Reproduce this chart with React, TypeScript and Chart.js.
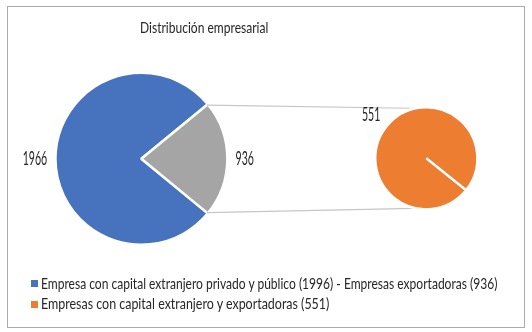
import React, { useEffect, useRef } from "react";
import { Chart, registerables } from "chart.js";

Chart.register(...registerables);

// ---------- data ----------
const TITLE = "Distribución empresarial";
const primaryCategories = ["Empresa con capital extranjero privado y público"];
const primaryValues = [1966];
const otherCategory = "Empresas exportadoras";
const secondaryCategories = ["Empresas con capital extranjero y exportadoras"];
const secondaryValues = [551];
const primaryLabels = ["1966", "936"]; // blue slice, grey ("other") slice
const secondaryLabels = ["551"];
const legendLabels = [
  "Empresa con capital extranjero privado y público (1996) - Empresas exportadoras (936)",
  "Empresas con capital extranjero y exportadoras (551)",
];

// ---------- style ----------
const W = 532;
const H = 332;
const BLUE = "#4672BE";
const GREY = "#A5A5A5";
const ORANGE = "#ED7D31";
const TEXT = "#262626";
const LINE = "#c6c6c6";
const FONT = "Lato, 'Open Sans', sans-serif";
const BW = 2.5;
const MAIN = { cx: 141.4, cy: 158.8, r: 84.7 };
const SEC = { cx: 426.3, cy: 158.3, r: 49.8 };
const SEC_ROTATION = 128.6;
const LABEL_SIZE = 18.5;
const LABEL_GAP = 9.5;
const TITLE_SIZE = 15.4;
const LEGEND_SIZE = 16.2;
const LEGEND_WIDTHS = [457, 289];

function measure(text: string, font: string) {
  const c = document.createElement("canvas").getContext("2d")!;
  c.font = font;
  return c.measureText(text).width;
}

function padFor(g: { cx: number; cy: number; r: number }) {
  const m = 3;
  return {
    left: g.cx - g.r - m,
    top: g.cy - g.r - m,
    right: W - (g.cx + g.r + m),
    bottom: H - (g.cy + g.r + m),
  };
}

function makeLabelPlugin(labels: string[], scale: number) {
  return {
    id: "outsideLabels",
    afterDatasetsDraw(chart: any) {
      const ctx = chart.ctx as CanvasRenderingContext2D;
      const meta = chart.getDatasetMeta(0);
      ctx.save();
      ctx.font = `${LABEL_SIZE}px ${FONT}`;
      ctx.fillStyle = TEXT;
      ctx.textBaseline = "alphabetic";
      const h = LABEL_SIZE * 0.72;
      meta.data.forEach((arc: any, i: number) => {
        const text = labels[i];
        if (!text) return;
        const p = arc.getProps(["x", "y", "startAngle", "endAngle", "outerRadius"], true);
        const mid = (p.startAngle + p.endAngle) / 2;
        const dx = Math.cos(mid);
        const dy = Math.sin(mid);
        const w = ctx.measureText(text).width * scale;
        const ext = Math.abs(dx) * (w / 2) + Math.abs(dy) * (h / 2);
        const d = p.outerRadius - BW / 2 + LABEL_GAP + ext;
        const tx = p.x + dx * d;
        const ty = p.y + dy * d;
        ctx.save();
        ctx.translate(tx - w / 2, ty + h / 2);
        ctx.scale(scale, 1);
        ctx.fillText(text, 0, 0);
        ctx.restore();
      });
      ctx.restore();
    },
  };
}

export default function App() {
  const mainRef = useRef<HTMLCanvasElement>(null);
  const secRef = useRef<HTMLCanvasElement>(null);

  const titleScale = 128.3 / measure(TITLE, `${TITLE_SIZE}px ${FONT}`);
  const legendScales = legendLabels.map((l, i) => LEGEND_WIDTHS[i] / measure(l, `${LEGEND_SIZE}px ${FONT}`));

  useEffect(() => {
    const labelScale = 24.5 / measure(primaryLabels[0], `${LABEL_SIZE}px ${FONT}`);
    const otherTotal = secondaryValues.reduce((a, b) => a + b, 0);
    const mainData = [...primaryValues, otherTotal];
    const total = mainData.reduce((a, b) => a + b, 0);
    const otherDeg = (360 * otherTotal) / total;

    const mainChart = new Chart(mainRef.current!, {
      type: "pie",
      data: {
        labels: [...primaryCategories, otherCategory],
        datasets: [
          {
            data: mainData,
            backgroundColor: [BLUE, GREY],
            borderColor: "#ffffff",
            borderWidth: BW,
          },
        ],
      },
      options: {
        responsive: false,
        animation: false,
        events: [],
        rotation: 90 + otherDeg / 2,
        radius: MAIN.r + BW / 2,
        layout: { padding: padFor(MAIN) },
        plugins: { legend: { display: false }, tooltip: { enabled: false }, title: { display: false } },
      } as any,
      plugins: [makeLabelPlugin(primaryLabels, labelScale)],
    });

    const connectors = {
      id: "connectors",
      beforeDatasetsDraw(chart: any) {
        const grey = mainChart.getDatasetMeta(0).data[1] as any;
        const g = grey.getProps(["x", "y", "startAngle", "endAngle", "outerRadius"], true);
        const s = chart.getDatasetMeta(0).data[0] as any;
        const sp = s.getProps(["x", "y", "outerRadius"], true);
        const R = g.outerRadius - BW / 2;
        const r = sp.outerRadius - BW / 2;
        const ctx = chart.ctx as CanvasRenderingContext2D;
        ctx.save();
        ctx.strokeStyle = LINE;
        ctx.lineWidth = 1.2;
        ctx.beginPath();
        ctx.moveTo(g.x + Math.cos(g.startAngle) * R, g.y + Math.sin(g.startAngle) * R);
        ctx.lineTo(sp.x, sp.y - r);
        ctx.moveTo(g.x + Math.cos(g.endAngle) * R, g.y + Math.sin(g.endAngle) * R);
        ctx.lineTo(sp.x, sp.y + r);
        ctx.stroke();
        ctx.restore();
      },
    };

    const secChart = new Chart(secRef.current!, {
      type: "pie",
      data: {
        labels: secondaryCategories,
        datasets: [
          {
            data: secondaryValues,
            backgroundColor: [ORANGE],
            borderColor: "#ffffff",
            borderWidth: BW,
          },
        ],
      },
      options: {
        responsive: false,
        animation: false,
        events: [],
        rotation: SEC_ROTATION,
        radius: SEC.r + BW / 2,
        layout: { padding: padFor(SEC) },
        plugins: { legend: { display: false }, tooltip: { enabled: false }, title: { display: false } },
      } as any,
      plugins: [connectors, makeLabelPlugin(secondaryLabels, labelScale)],
    });

    return () => {
      secChart.destroy();
      mainChart.destroy();
    };
  }, []);

  const legendColors = [BLUE, ORANGE];

  return (
    <div style={{ position: "absolute", left: 0, top: 0, width: W, height: H, background: "#fff", overflow: "hidden" }}>
      <div
        style={{
          position: "absolute",
          left: 7,
          top: 6,
          width: 518,
          height: 322,
          boxSizing: "border-box",
          border: "1px solid #ababab",
        }}
      />
      <canvas ref={mainRef} width={W} height={H} style={{ position: "absolute", left: 0, top: 0, width: W, height: H }} />
      <canvas ref={secRef} width={W} height={H} style={{ position: "absolute", left: 0, top: 0, width: W, height: H }} />
      <div
        style={{
          position: "absolute",
          left: 140,
          top: 32.7 - 0.987 * TITLE_SIZE,
          fontFamily: FONT,
          fontSize: TITLE_SIZE,
          lineHeight: `${1.2 * TITLE_SIZE}px`,
          color: TEXT,
          whiteSpace: "nowrap",
          transform: `scaleX(${titleScale})`,
          transformOrigin: "0 0",
        }}
      >
        {TITLE}
      </div>
      {legendLabels.map((lab, i) => (
        <React.Fragment key={i}>
          <div
            style={{
              position: "absolute",
              left: 31,
              top: 280 + i * 20.8,
              width: 7,
              height: 7,
              background: legendColors[i],
            }}
          />
          <div
            style={{
              position: "absolute",
              left: 40.5,
              top: 288.5 + i * 20.8 - 0.987 * LEGEND_SIZE,
              fontFamily: FONT,
              fontSize: LEGEND_SIZE,
              lineHeight: `${1.2 * LEGEND_SIZE}px`,
              color: TEXT,
              whiteSpace: "nowrap",
              transform: `scaleX(${legendScales[i]})`,
              transformOrigin: "0 0",
            }}
          >
            {lab}
          </div>
        </React.Fragment>
      ))}
    </div>
  );
}
